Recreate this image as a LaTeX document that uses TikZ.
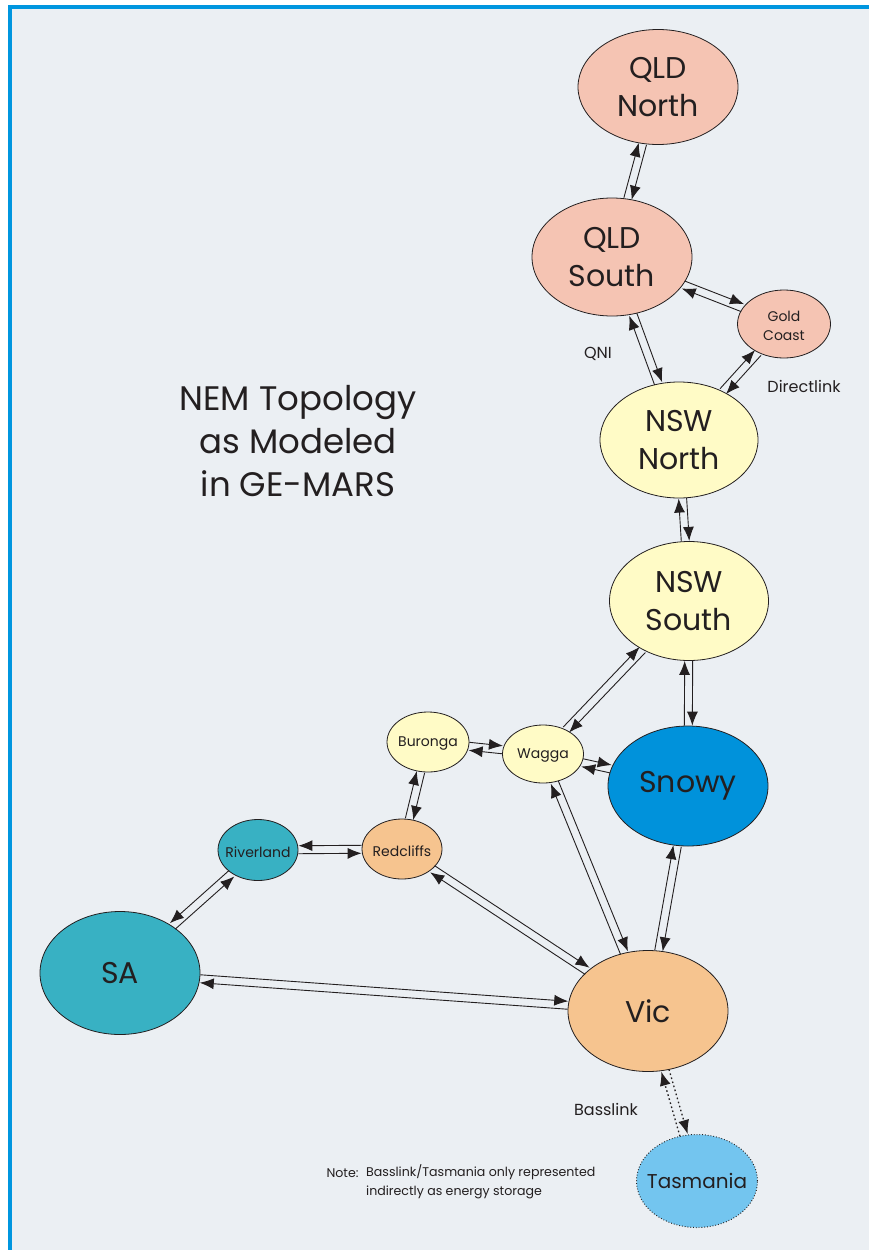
\documentclass[tikz,border=0pt]{standalone}
\usepackage{fontspec}
\setmainfont{Poppins}
\usetikzlibrary{shapes.geometric,arrows.meta,calc}
\definecolor{ink}{HTML}{231F20}
\definecolor{bgc}{HTML}{EBEFF3}
\definecolor{frame}{HTML}{0096DF}
\definecolor{qldc}{HTML}{F5C4B3}
\definecolor{nswc}{HTML}{FFFBC6}
\definecolor{snowyc}{HTML}{0092DB}
\definecolor{vicc}{HTML}{F6C48F}
\definecolor{sac}{HTML}{38B1C3}
\definecolor{tasc}{HTML}{73C5EF}
\newcommand\linkoff{4pt}
\newcommand\bilinkgen[5]{%
  \path (#2) -- (#3) coordinate[pos=0] (s) coordinate[pos=1] (e);
  \draw[link,#1] ($(s)!\linkoff!#4:(e)$) -- ($(e)!\linkoff!#5:(s)$);
  \draw[link,#1] ($(e)!\linkoff!#4:(s)$) -- ($(s)!\linkoff!#5:(e)$);
}
\newcommand\bilink[3][]{\bilinkgen{#1}{#2}{#3}{90}{-90}}
\newcommand\bilinkR[3][]{\bilinkgen{#1}{#2}{#3}{-90}{90}}
\begin{document}
\begin{tikzpicture}[x=1pt,y=-1pt,
  nd/.style={ellipse, draw=ink, line width=0.8pt, inner sep=0pt},
  bigt/.style={font=\fontsize{30}{38}\selectfont, text=ink, align=center},
  midt/.style={font=\fontsize{20}{24}\selectfont, text=ink, align=center},
  smallt/.style={font=\fontsize{14}{19}\selectfont, text=ink, align=center, yshift=-2pt},
  lbl/.style={font=\fontsize{16}{19}\selectfont, text=ink},
  link/.style={draw=ink, line width=0.9pt, -{Latex[length=14pt,width=11pt]}},
  dotlink/.style={dash pattern=on 1.6pt off 2.6pt, line width=1.3pt}
]
\useasboundingbox (0,0) rectangle (869,1250);
\fill[white] (0,0) rectangle (869,1250);
\fill[frame] (8,5) rectangle (869,1250);
\fill[bgc] (11.5,8.5) rectangle (869,1250);

% title
\node[font=\fontsize{34}{43}\selectfont, text=ink, align=center] (title) at (298,441)
  {NEM Topology\\as Modeled\\in GE-MARS};

% nodes
\node[nd, fill=qldc, minimum width=160pt, minimum height=115pt,
  label={[bigt]center:{QLD\\North}}] (qldn) at (658,87) {};
\node[nd, fill=qldc, minimum width=160pt, minimum height=118pt,
  label={[bigt]center:{QLD\\South}}] (qlds) at (612,257) {};
\node[nd, fill=qldc, minimum width=93pt, minimum height=68pt,
  label={[smallt]center:{Gold\\Coast}}] (gold) at (784,324) {};
\node[nd, fill=nswc, minimum width=158pt, minimum height=116pt,
  label={[bigt]center:{NSW\\North}}] (nswn) at (679,440) {};
\node[nd, fill=nswc, minimum width=159pt, minimum height=119pt,
  label={[bigt]center:{NSW\\South}}] (nsws) at (689,601) {};
\node[nd, fill=snowyc, minimum width=160pt, minimum height=120pt,
  label={[bigt]center:{Snowy}}] (snowy) at (688,786) {};
\node[nd, fill=nswc, minimum width=81pt, minimum height=58pt,
  label={[smallt]center:{Wagga}}] (wagga) at (543,754) {};
\node[nd, fill=nswc, minimum width=82pt, minimum height=60pt,
  label={[smallt]center:{Buronga}}] (buronga) at (428,742) {};
\node[nd, fill=vicc, minimum width=80pt, minimum height=60pt,
  label={[smallt]center:{Redcliffs}}] (red) at (402,849) {};
\node[nd, fill=sac, minimum width=80pt, minimum height=61pt,
  label={[smallt]center:{Riverland}}] (river) at (258,850) {};
\node[nd, fill=sac, minimum width=160pt, minimum height=123pt,
  label={[bigt]center:{SA}}] (sa) at (120,973) {};
\node[nd, fill=vicc, minimum width=160pt, minimum height=121pt,
  label={[bigt]center:{Vic}}] (vic) at (648,1011) {};
\node[nd, fill=tasc, dotted, line width=1pt, minimum width=121pt, minimum height=93pt,
  label={[midt]center:{Tasmania}}] (tas) at (697,1181) {};

% connectors
\bilink{qldn}{qlds}
\bilink{qlds}{gold}
\bilink{qlds}{nswn}
\bilink{gold}{nswn}
\bilink{nswn}{nsws}
\bilink{nsws}{wagga}
\bilink{nsws}{snowy}
\bilink{wagga}{snowy}
\bilink{buronga}{wagga}
\bilink{buronga}{red}
\bilinkR{river}{red}
\bilinkR{river}{sa}
\bilink{red}{vic}
\bilink{wagga}{vic}
\bilink{snowy}{vic}
\bilink{sa}{vic}
\bilink[dotlink]{vic}{tas}

% labels
\node[lbl] (qni) at (598,354) {QNI};
\node[lbl] (dlink) at (804,386) {Directlink};
\node[lbl] (bass) at (606,1109) {Basslink};
\node[font=\fontsize{12.6}{19}\selectfont, text=ink, anchor=base west] (notehead) at (323,1177) {Note:};
\node[font=\fontsize{12.6}{19}\selectfont, text=ink, anchor=north west, align=left, inner sep=0pt] (notebody) at (366,1164)
  {Basslink/Tasmania only represented\\indirectly as energy storage};
\end{tikzpicture}
\end{document}
